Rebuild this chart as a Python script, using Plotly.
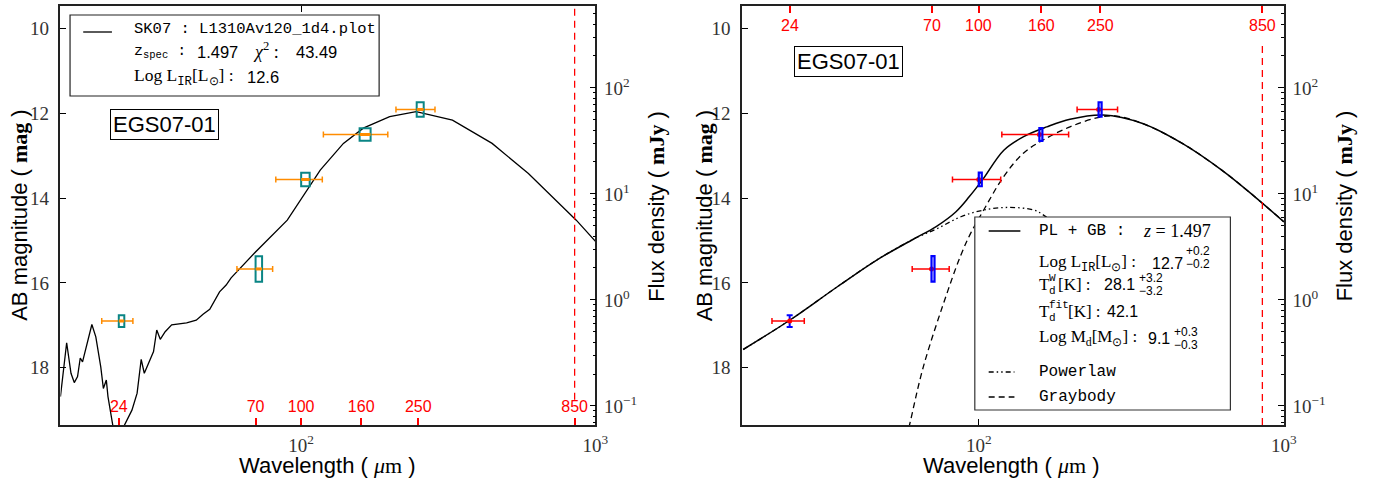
import plotly.graph_objects as go
import numpy as np

W, H = 1392, 478

# ---------------- data ----------------
band_ticks = [24, 70, 100, 160, 250, 850]
band_labels = ["24", "70", "100", "160", "250", "850"]
scuba_wave = [850]

phot_wave = [24, 70, 100, 158, 247]
phot_mag = [16.90, 15.67, 13.56, 12.50, 11.91]
phot_err = [0.14, 0.30, 0.16, 0.15, 0.17]
phot_wave_lo = [21.0, 60.5, 82.0, 119.0, 210.0]
phot_wave_hi = [26.8, 80.0, 118.0, 197.0, 285.0]

# SK07 template (left panel)
sk07_wave = [15.2, 15.96, 16.51, 16.94, 17.38, 17.75, 18.07, 18.78, 19.44, 20.05,
             20.84, 21.27, 21.77, 22.05, 22.8, 24.0, 25.1, 26.6, 27.7, 28.6,
             29.3, 30.7, 31.5, 32.3, 33.2, 34.5, 36.3, 40.8, 44.0, 46.4,
             48.9, 52.8, 55.6, 57.8, 69.3, 89.7, 116.1, 139.2, 162.6, 199.9,
             245.9, 326.8, 445.6, 592.0, 727.8, 861.0, 1004.0]
sk07_mag = [18.68, 17.41, 18.13, 18.35, 18.21, 17.77, 17.86, 17.39, 16.98, 17.27,
            17.98, 18.49, 18.29, 18.68, 19.35, 20.2, 19.35, 19.0, 18.60, 17.80,
            18.13, 17.82, 17.62, 17.11, 17.33, 17.15, 16.99, 16.94, 16.88, 16.74,
            16.62, 16.21, 16.05, 15.88, 15.30, 14.52, 13.34, 12.71, 12.35, 12.08,
            11.96, 12.16, 12.71, 13.42, 14.04, 14.52, 15.03]

# PL + GB fit (right panel)
fit_wave = [16.9, 24.0, 34.4, 46.3, 61.0, 72.5, 84.2, 93.0, 102.8, 120.8,
            140.3, 167.1, 199.1, 255.4, 344.4, 464.5, 625.6, 803.3, 1000.0]
fit_mag = [17.57, 16.88, 16.09, 15.46, 14.97, 14.67, 14.32, 13.97, 13.57, 12.87,
           12.55, 12.32, 12.14, 12.04, 12.24, 12.71, 13.34, 13.97, 14.56]

pl_wave = [16.9, 24.0, 34.4, 46.3, 61.0, 73.5, 87.4, 104.0, 125.1, 151.4, 163.0, 179.2]
pl_mag = [17.57, 16.88, 16.09, 15.46, 14.97, 14.71, 14.44, 14.28, 14.22, 14.28, 14.40, 14.63]

gb_wave = [56.0, 59.3, 65.8, 79.3, 87.4, 94.2, 103.8, 120.5, 140.0, 162.5, 199.0,
           243.4, 278.5, 344.4, 464.5, 625.6, 803.3, 1000.0]
gb_mag = [20.1, 19.35, 17.98, 16.17, 15.34, 14.82, 14.28, 13.50, 12.94, 12.63, 12.32,
          12.11, 12.06, 12.24, 12.71, 13.34, 13.97, 14.56]

mag_range = [19.35, 9.47]
mag_ticks = [10, 12, 14, 16, 18]
wave_range_left = [15.2, 1000]
wave_range_right = [16.75, 1000]
wave_major = [100, 1000]
wave_major_text = ["10<sup>2</sup>", "10<sup>3</sup>"]
flux_major = [0.1, 1, 10, 100]
flux_major_text = ["10<sup>−1</sup>", "10<sup>0</sup>", "10<sup>1</sup>", "10<sup>2</sup>"]
flux_minor = [0.07, 0.08, 0.09, 0.2, 0.3, 0.4, 0.5, 0.6, 0.7, 0.8, 0.9,
              2, 3, 4, 5, 6, 7, 8, 9, 20, 30, 40, 50, 60, 70, 80, 90,
              200, 300, 400, 500]

# ---------------- styles ----------------
SANS = "Liberation Sans"
SERIF = "Liberation Serif"
MONO = "Liberation Mono"
TEAL = "#0a8585"
ORANGE = "#ff8c00"
left_box_hw = [5.5, 6.5, 8.5, 11, 7]     # half widths in px
right_box_hw = [0, 3, 3, 3, 3]


def logflux(m):
    return (16.4 - m) / 2.5


def px(x):
    return x / W


def py(y):
    return 1 - y / H


XL = [px(61), px(601)]
XR = [px(749), px(1296)]
YD = [py(425), py(6)]

w = np.array(phot_wave)
err_plus = list(np.array(phot_wave_hi) - w)
err_minus = list(w - np.array(phot_wave_lo))

fig = go.Figure()

# ---- left panel ----
fig.add_trace(go.Scatter(x=sk07_wave, y=sk07_mag, mode="lines",
                         line=dict(color="black", width=1.3),
                         xaxis="x", yaxis="y", hoverinfo="skip"))
fig.add_trace(go.Scatter(x=phot_wave, y=phot_mag, mode="markers",
                         marker=dict(size=1, color="rgba(0,0,0,0)"),
                         error_x=dict(type="data", symmetric=False, array=err_plus,
                                      arrayminus=err_minus, color=ORANGE,
                                      thickness=1.5, width=3),
                         xaxis="x", yaxis="y", hoverinfo="skip"))
fig.add_trace(go.Scatter(x=[phot_wave[2]], y=[1], mode="markers",
                         marker=dict(size=1, color="rgba(0,0,0,0)"),
                         xaxis="x", yaxis="y2", hoverinfo="skip"))
fig.add_trace(go.Scatter(x=[phot_wave[2]], y=[phot_mag[2]], mode="markers",
                         marker=dict(size=1, color="rgba(0,0,0,0)"),
                         xaxis="x3", yaxis="y", hoverinfo="skip"))

# ---- right panel ----
fig.add_trace(go.Scatter(x=gb_wave, y=gb_mag, mode="lines", line_shape="spline",
                         line=dict(color="black", width=1.3, dash="6px,4px"),
                         xaxis="x2", yaxis="y3", hoverinfo="skip"))
fig.add_trace(go.Scatter(x=pl_wave, y=pl_mag, mode="lines", line_shape="spline",
                         line=dict(color="black", width=1.3,
                                   dash="5px,3px,1.5px,3px,1.5px,3px"),
                         xaxis="x2", yaxis="y3", hoverinfo="skip"))
fig.add_trace(go.Scatter(x=fit_wave, y=fit_mag, mode="lines", line_shape="spline",
                         line=dict(color="black", width=1.5),
                         xaxis="x2", yaxis="y3", hoverinfo="skip"))
fig.add_trace(go.Scatter(x=phot_wave[:1], y=phot_mag[:1], mode="markers",
                         marker=dict(size=1, color="rgba(0,0,0,0)"),
                         error_y=dict(type="data", array=phot_err[:1], color="blue",
                                      thickness=2, width=3),
                         xaxis="x2", yaxis="y3", hoverinfo="skip"))
fig.add_trace(go.Scatter(x=phot_wave, y=phot_mag, mode="markers",
                         marker=dict(size=5, color="red"),
                         error_x=dict(type="data", symmetric=False, array=err_plus,
                                      arrayminus=err_minus, color="red",
                                      thickness=1.5, width=3),
                         xaxis="x2", yaxis="y3", hoverinfo="skip"))
fig.add_trace(go.Scatter(x=[phot_wave[2]], y=[1], mode="markers",
                         marker=dict(size=1, color="rgba(0,0,0,0)"),
                         xaxis="x2", yaxis="y4", hoverinfo="skip"))
fig.add_trace(go.Scatter(x=[phot_wave[2]], y=[phot_mag[2]], mode="markers",
                         marker=dict(size=1, color="rgba(0,0,0,0)"),
                         xaxis="x4", yaxis="y3", hoverinfo="skip"))

shapes = []
for i in range(len(phot_wave)):
    shapes.append(dict(type="rect", xref="x", yref="y", xsizemode="pixel",
                       xanchor=phot_wave[i], x0=-left_box_hw[i], x1=left_box_hw[i],
                       y0=phot_mag[i] - phot_err[i], y1=phot_mag[i] + phot_err[i],
                       line=dict(color=TEAL, width=2), layer="above"))
    shapes.append(dict(type="line", xref="x", yref="y", xsizemode="pixel",
                       xanchor=phot_wave[i], x0=-left_box_hw[i], x1=left_box_hw[i],
                       y0=phot_mag[i], y1=phot_mag[i],
                       line=dict(color=ORANGE, width=3), layer="above"))
    if right_box_hw[i] > 0:
        shapes.append(dict(type="rect", xref="x2", yref="y3", xsizemode="pixel",
                           xanchor=phot_wave[i], x0=-right_box_hw[i], x1=right_box_hw[i],
                           y0=phot_mag[i] - phot_err[i], y1=phot_mag[i] + phot_err[i],
                           line=dict(color="blue", width=2.2), layer="above"))

# 850 um dashed lines
shapes.append(dict(type="line", xref="x", yref="y domain", x0=scuba_wave[0], x1=scuba_wave[0],
                   y0=0.06, y1=1, line=dict(color="red", width=1.3, dash="7px,5px")))
shapes.append(dict(type="line", xref="x2", yref="y3 domain", x0=scuba_wave[0], x1=scuba_wave[0],
                   y0=0, y1=0.915, line=dict(color="red", width=1.3, dash="7px,5px")))

# legend boxes
shapes.append(dict(type="rect", xref="paper", yref="paper", x0=px(70.7), x1=px(382.7),
                   y0=py(96), y1=py(15), line=dict(color="#222", width=1.2),
                   fillcolor="white", layer="above"))
shapes.append(dict(type="line", xref="paper", yref="paper", x0=px(84), x1=px(113),
                   y0=py(32), y1=py(32), line=dict(color="black", width=1.3), layer="above"))
shapes.append(dict(type="rect", xref="paper", yref="paper", x0=px(984), x1=px(1242),
                   y0=py(410), y1=py(217), line=dict(color="#333", width=1.2),
                   fillcolor="white", layer="above"))
shapes.append(dict(type="line", xref="paper", yref="paper", x0=px(998), x1=px(1030),
                   y0=py(231), y1=py(231), line=dict(color="black", width=1.5), layer="above"))
shapes.append(dict(type="line", xref="paper", yref="paper", x0=px(998), x1=px(1024),
                   y0=py(372), y1=py(372),
                   line=dict(color="black", width=1.3, dash="5px,3px,1.5px,3px,1.5px,3px"),
                   layer="above"))
shapes.append(dict(type="line", xref="paper", yref="paper", x0=px(998), x1=px(1024),
                   y0=py(397), y1=py(397), line=dict(color="black", width=1.3, dash="6px,4px"),
                   layer="above"))


def txt(x, y, text, size, family, color="black", xanchor="left", yanchor="middle", **kw):
    return dict(x=px(x), y=py(y), xref="paper", yref="paper", text=text, showarrow=False,
                xanchor=xanchor, yanchor=yanchor,
                font=dict(size=size, family=family, color=color), **kw)


ann = []
# red band labels of the right panel (top, inside)
for v, lab in zip(band_ticks, band_labels):
    ann.append(dict(x=float(np.log10(v)), xref="x2", y=py(25), yref="paper", text=lab,
                    showarrow=False, xanchor="center", yanchor="middle",
                    font=dict(size=16, family=SANS, color="red")))

# left legend
ann.append(txt(133, 29, "SK07 : L1310Av120_1d4.plot", 15.5, MONO))
ann.append(txt(133, 52, "z<sub>spec</sub> :", 15, MONO))
ann.append(txt(197, 52, "1.497", 16.5, SANS))
ann.append(txt(253, 51, "<i>χ</i><sup>2</sup> :", 18, SERIF))
ann.append(txt(297, 52, "43.49", 16.5, SANS))
ann.append(txt(133, 77, 'Log L<sub><span style="font-family:Liberation Mono">IR</span></sub>[L<sub>⊙</sub>] :', 17.5, SERIF))
ann.append(txt(247, 77, "12.6", 16.5, SANS))

# right legend
ann.append(txt(1046.7, 231, "PL + GB :", 16, MONO))
ann.append(txt(1152, 231, "<i>z</i> = 1.497", 18, SERIF))
ann.append(txt(1046.7, 263, 'Log L<sub><span style="font-family:Liberation Mono">IR</span></sub>[L<sub>⊙</sub>] :', 17, SERIF))
ann.append(txt(1161, 263, "12.7", 16, SANS))
ann.append(txt(1195, 251, "+0.2", 12, SANS))
ann.append(txt(1195, 264, "−0.2", 12, SANS))
ann.append(txt(1046.7, 284, "T", 17, SERIF))
ann.append(txt(1057, 278, "W", 11, MONO))
ann.append(txt(1057, 291, "d", 11, MONO))
ann.append(txt(1066, 284, "[K] :", 17, SERIF))
ann.append(txt(1112, 284, "28.1", 16, SANS))
ann.append(txt(1148, 278, "+3.2", 12, SANS))
ann.append(txt(1148, 291, "−3.2", 12, SANS))
ann.append(txt(1046.7, 311, "T", 17, SERIF))
ann.append(txt(1057, 305, "fit", 11, MONO))
ann.append(txt(1057, 318, "d", 11, MONO))
ann.append(txt(1076, 311, "[K] :", 17, SERIF))
ann.append(txt(1115, 311, "42.1", 16, SANS))
ann.append(txt(1046.7, 338, "Log M<sub>d</sub>[M<sub>⊙</sub>] :", 17, SERIF))
ann.append(txt(1157, 338, "9.1", 16, SANS))
ann.append(txt(1183, 332, "+0.3", 12, SANS))
ann.append(txt(1183, 345, "−0.3", 12, SANS))
ann.append(txt(1046.7, 372, "Powerlaw", 16, MONO))
ann.append(txt(1046.7, 397, "Graybody", 16, MONO))

# object labels
for cx, cy in [(166, 124), (857, 62)]:
    ann.append(txt(cx, cy, "EGS07-01", 22, SANS, xanchor="center", bordercolor="black",
                   borderwidth=1, borderpad=2, bgcolor="white"))

# axis titles
ytitle = 'AB magnitude ( <span style="font-family:Liberation Serif"><b>mag</b></span> )'
xtitle = 'Wavelength ( <span style="font-family:Liberation Serif"><i>μ</i>m</span> )'
ftitle = 'Flux density ( <span style="font-family:Liberation Serif"><b>mJy</b></span> )'
for x in (19, 711):
    ann.append(txt(x, 215, ytitle, 22, SANS, xanchor="center", textangle=-90))
for x in (331, 1021):
    ann.append(txt(x, 465, xtitle, 22, SANS, xanchor="center"))
for x in (662, 1357):
    ann.append(txt(x, 206, ftitle, 22, SANS, xanchor="center", textangle=-90))

TICKFONT = dict(family=SERIF, size=19, color="#333")


def main_x(domain, rng, anchor):
    return dict(type="log", domain=domain, range=list(np.log10(rng)), anchor=anchor,
                showline=True, linecolor="#222", linewidth=1.5, mirror="ticks",
                ticks="inside", ticklen=6, tickwidth=1.2, tickcolor="black",
                tickvals=wave_major, ticktext=wave_major_text, tickfont=TICKFONT,
                showgrid=False, zeroline=False, ticklabelstandoff=2)


def main_y(anchor):
    return dict(domain=YD, range=mag_range, anchor=anchor, showline=True, linecolor="#222",
                linewidth=1.5, mirror=True, ticks="inside", ticklen=6, tickwidth=1.2,
                tickcolor="black", tickvals=mag_ticks, tickfont=TICKFONT,
                showgrid=False, zeroline=False, ticklabelstandoff=6)


def flux_y(overlay, anchor):
    return dict(type="log", range=[logflux(mag_range[0]), logflux(mag_range[1])],
                overlaying=overlay, anchor=anchor, side="right", showline=True,
                linecolor="#222", linewidth=1.5, ticks="inside", ticklen=6, tickwidth=1.2,
                tickcolor="black", tickvals=flux_major, ticktext=flux_major_text,
                tickfont=TICKFONT, showgrid=False, zeroline=False,
                minor=dict(tickmode="array", tickvals=flux_minor, ticks="inside",
                           ticklen=3, tickwidth=1, tickcolor="black"),
                ticklabelstandoff=3)


def red_x(overlay, anchor, rng, side, inside_labels):
    d = dict(type="log", range=list(np.log10(rng)), overlaying=overlay, anchor=anchor,
             side=side, showline=False, ticks="inside", ticklen=7, tickwidth=2,
             tickcolor="red", tickvals=band_ticks, ticktext=band_labels,
             tickfont=dict(family=SANS, size=16, color="red"),
             showgrid=False, zeroline=False)
    if inside_labels:
        d.update(ticklabelposition="inside", ticklabelstandoff=3)
    else:
        d.update(showticklabels=False)
    return d


fig.update_layout(
    width=W, height=H, margin=dict(l=0, r=0, t=0, b=0),
    paper_bgcolor="white", plot_bgcolor="white", showlegend=False,
    xaxis=main_x(XL, wave_range_left, "y"),
    yaxis=main_y("x"),
    yaxis2=flux_y("y", "x"),
    xaxis3=red_x("x", "y", wave_range_left, "bottom", True),
    xaxis2=main_x(XR, wave_range_right, "y3"),
    yaxis3=main_y("x2"),
    yaxis4=flux_y("y3", "x2"),
    xaxis4=red_x("x2", "y3", wave_range_right, "top", False),
    shapes=shapes, annotations=ann,
)

fig.write_html("out.html", config={"displayModeBar": False},
               post_script="document.body.style.margin='0px';document.body.style.overflow='hidden';")
